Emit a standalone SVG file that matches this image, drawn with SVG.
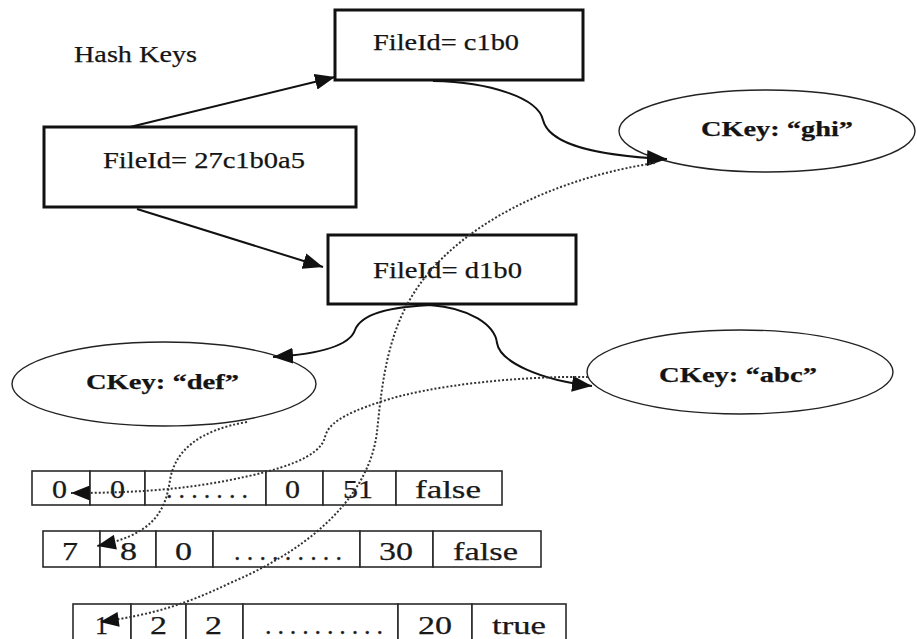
<svg xmlns="http://www.w3.org/2000/svg" width="917" height="639" viewBox="0 0 917 639">
  <defs>
    <style>
      .t { font-family: "Liberation Serif", "Times New Roman", serif; font-size: 24px; fill: #141414; stroke: #141414; stroke-width: 0.25; }
      .k { font-weight: bold; font-size: 22px; }
      .c { font-size: 26px; fill: #1a1a1a; }
      .box { fill: #fff; stroke: #111; stroke-width: 3; }
      .oval { fill: #fff; stroke: #222; stroke-width: 1.4; }
      .cell { fill: #fff; stroke: #2a2a2a; stroke-width: 1.6; }
      .solid { fill: none; stroke: #111; stroke-width: 2; }
      .dots { fill: none; stroke: #333; stroke-width: 2; stroke-dasharray: 2 2; }
    </style>
    <marker id="head" viewBox="0 0 20 16" refX="20" refY="8" markerWidth="20" markerHeight="16" markerUnits="userSpaceOnUse" orient="auto">
      <path d="M0,0 L20,8 L0,16 z" fill="#111"/>
    </marker>
    <marker id="headDot" viewBox="0 0 20 16" refX="20" refY="8" markerWidth="20" markerHeight="15" markerUnits="userSpaceOnUse" orient="auto">
      <path d="M0,0 L20,8 L0,16 z" fill="#111"/>
    </marker>
  </defs>

  <rect width="917" height="639" fill="#fff"/>

  <text id="title" class="t" x="74" y="62" textLength="123" lengthAdjust="spacingAndGlyphs">Hash Keys</text>

  <!-- file id boxes -->
  <g id="file-root">
    <rect class="box" x="44" y="127" width="312" height="80"/>
    <text class="t" x="103" y="168" textLength="202" lengthAdjust="spacingAndGlyphs">FileId= 27c1b0a5</text>
  </g>
  <g id="file-c1b0">
    <rect class="box" x="335" y="10" width="248" height="70"/>
    <text class="t" x="373" y="50" textLength="146" lengthAdjust="spacingAndGlyphs">FileId= c1b0</text>
  </g>
  <g id="file-d1b0">
    <rect class="box" x="328" y="235" width="248" height="69"/>
    <text class="t" x="373" y="278" textLength="149" lengthAdjust="spacingAndGlyphs">FileId= d1b0</text>
  </g>

  <!-- column keys -->
  <g id="ckey-ghi">
    <ellipse class="oval" cx="767" cy="131" rx="148" ry="41"/>
    <text class="t k" x="701" y="136" textLength="152" lengthAdjust="spacingAndGlyphs">CKey: “ghi”</text>
  </g>
  <g id="ckey-def">
    <ellipse class="oval" cx="164" cy="384" rx="152" ry="42"/>
    <text class="t k" x="86" y="389" textLength="153" lengthAdjust="spacingAndGlyphs">CKey: “def”</text>
  </g>
  <g id="ckey-abc">
    <ellipse class="oval" cx="740" cy="372" rx="153" ry="42"/>
    <text class="t k" x="659" y="382" textLength="158" lengthAdjust="spacingAndGlyphs">CKey: “abc”</text>
  </g>

  <!-- value records -->
  <g id="record-1">
    <rect class="cell" x="32" y="471" width="58" height="34"/>
    <rect class="cell" x="90" y="471" width="55" height="34"/>
    <rect class="cell" x="145" y="471" width="121" height="34"/>
    <rect class="cell" x="266" y="471" width="57" height="34"/>
    <rect class="cell" x="323" y="471" width="73" height="34"/>
    <rect class="cell" x="396" y="471" width="106" height="34"/>
    <text class="t c" x="52" y="498" textLength="15" lengthAdjust="spacingAndGlyphs">0</text>
    <text class="t c" x="110" y="498" textLength="15" lengthAdjust="spacingAndGlyphs">0</text>
    <text class="t c" x="166" y="498" textLength="82" lengthAdjust="spacing">.......</text>
    <text class="t c" x="285" y="498" textLength="15" lengthAdjust="spacingAndGlyphs">0</text>
    <text class="t c" x="343" y="498" textLength="30" lengthAdjust="spacingAndGlyphs">51</text>
    <text class="t c" x="415" y="498" textLength="66" lengthAdjust="spacingAndGlyphs">false</text>
  </g>
  <g id="record-2">
    <rect class="cell" x="43" y="531" width="57" height="36"/>
    <rect class="cell" x="100" y="531" width="56" height="36"/>
    <rect class="cell" x="156" y="531" width="57" height="36"/>
    <rect class="cell" x="213" y="531" width="147" height="36"/>
    <rect class="cell" x="360" y="531" width="73" height="36"/>
    <rect class="cell" x="433" y="531" width="108" height="36"/>
    <text class="t c" x="62" y="560" textLength="16" lengthAdjust="spacingAndGlyphs">7</text>
    <text class="t c" x="120" y="560" textLength="17" lengthAdjust="spacingAndGlyphs">8</text>
    <text class="t c" x="175" y="560" textLength="17" lengthAdjust="spacingAndGlyphs">0</text>
    <text class="t c" x="234" y="560" textLength="108" lengthAdjust="spacing">.........</text>
    <text class="t c" x="379" y="560" textLength="34" lengthAdjust="spacingAndGlyphs">30</text>
    <text class="t c" x="453" y="560" textLength="65" lengthAdjust="spacingAndGlyphs">false</text>
  </g>
  <g id="record-3">
    <rect class="cell" x="73" y="604" width="58" height="38"/>
    <rect class="cell" x="131" y="604" width="55" height="38"/>
    <rect class="cell" x="186" y="604" width="57" height="38"/>
    <rect class="cell" x="243" y="604" width="155" height="38"/>
    <rect class="cell" x="398" y="604" width="74" height="38"/>
    <rect class="cell" x="472" y="604" width="94" height="38"/>
    <text class="t c" x="95" y="634" textLength="13" lengthAdjust="spacingAndGlyphs">1</text>
    <text class="t c" x="150" y="634" textLength="17" lengthAdjust="spacingAndGlyphs">2</text>
    <text class="t c" x="205" y="634" textLength="17" lengthAdjust="spacingAndGlyphs">2</text>
    <text class="t c" x="265" y="634" textLength="118" lengthAdjust="spacing">..........</text>
    <text class="t c" x="418" y="634" textLength="34" lengthAdjust="spacingAndGlyphs">20</text>
    <text class="t c" x="492" y="634" textLength="54" lengthAdjust="spacingAndGlyphs">true</text>
  </g>

  <!-- connectors -->
  <g id="connectors">
    <path class="solid" d="M130,127 L335,77" marker-end="url(#head)"/>
    <path class="solid" d="M137,209 L323,267" marker-end="url(#head)"/>
    <path class="solid" d="M433,81 C490,82 538,98 543,120 C548,140 580,155 667,159" marker-end="url(#head)"/>
    <path class="solid" d="M436,305 C395,306 362,312 355,330 C350,345 320,354 273,357" marker-end="url(#head)"/>
    <path class="solid" d="M430,305 C470,308 495,325 497,343 C500,362 540,380 592,386" marker-end="url(#head)"/>

    <path class="dots" d="M655,163 C555,178 455,225 412,296 C385,340 381,395 377,432 C370,490 320,545 230,583 C185,605 150,615 100,622" marker-end="url(#headDot)"/>
    <path class="dots" d="M588,377 C520,376 430,385 380,402 C340,415 328,425 325,437 C320,458 280,470 230,480 C180,490 130,493 71,493" marker-end="url(#headDot)"/>
    <path class="dots" d="M247,422 C200,430 175,450 170,480 C165,515 150,535 97,546" marker-end="url(#headDot)"/>
  </g>
</svg>
